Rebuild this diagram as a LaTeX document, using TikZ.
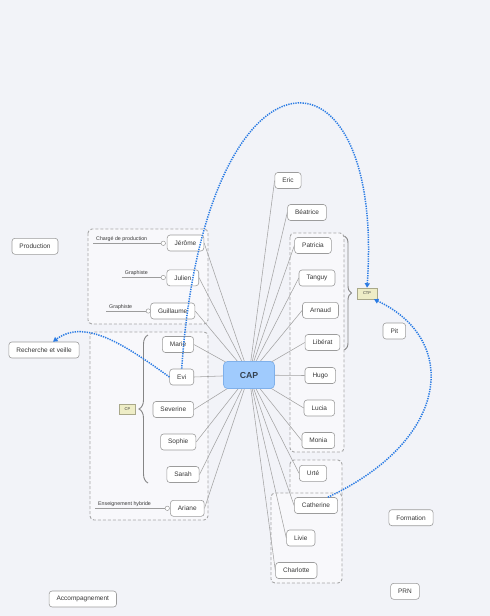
\documentclass[tikz,border=0pt]{standalone}
\usepackage{fontspec}
\setmainfont{Liberation Sans}
\usetikzlibrary{arrows.meta,decorations.pathreplacing,backgrounds}
\definecolor{bgc}{HTML}{F2F3F8}
\definecolor{grpfill}{HTML}{F8F8FB}
\definecolor{grpline}{HTML}{A6A6A6}
\definecolor{nodeline}{HTML}{9C9C9C}
\definecolor{txt}{HTML}{383838}
\definecolor{linkgray}{HTML}{A3A3A3}
\definecolor{capfill}{HTML}{A0CBFD}
\definecolor{capline}{HTML}{7FB0EA}
\definecolor{captxt}{HTML}{34414F}
\definecolor{bluelink}{HTML}{2A7BE4}
\definecolor{yelfill}{HTML}{EEEDC6}
\definecolor{yelline}{HTML}{A9A88A}
\definecolor{bracec}{HTML}{858585}
\tikzset{
  box/.style={draw=nodeline, fill=white, rounded corners=3pt, line width=0.6pt,
    inner xsep=7.5pt, inner ysep=0pt, minimum height=16pt,
    font=\fontsize{6.5}{7}\selectfont, text=txt},
  capbox/.style={draw=capline, fill=capfill, rounded corners=4pt, line width=0.7pt,
    minimum width=51pt, minimum height=27pt, font=\fontsize{8.7}{10}\selectfont\bfseries, text=captxt},
  tagbox/.style={draw=yelline, fill=yelfill, line width=0.5pt, inner sep=0pt,
    font=\fontsize{4}{5}\selectfont, text=txt},
  grp/.style={draw=grpline, dash pattern=on 3pt off 2pt, line width=0.9pt,
    rounded corners=4pt, fill=grpfill},
  conn/.style={draw=linkgray, line width=0.55pt},
  lbl/.style={inner xsep=3pt, inner ysep=1.6pt, font=\fontsize{5.3}{6}\selectfont, text=txt},
  lblline/.style={draw=nodeline, line width=0.55pt},
  dotc/.style={circle, draw=nodeline, fill=white, line width=0.5pt, inner sep=0pt, minimum size=4.4pt},
  brc/.style={draw=bracec, line width=0.9pt, decorate},
  bluedot/.style={draw=bluelink, line width=1.5pt, dash pattern=on 1.3pt off 1.1pt,
    -{Triangle[width=5pt,length=4.5pt]}},
}
\begin{document}
\begin{tikzpicture}[x=1pt,y=-1pt]
\useasboundingbox (0,0) rectangle (490,616);
\begin{scope}[on background layer]
  \fill[bgc] (0,0) rectangle (490,616);
  \path[grp] (88,229) rectangle (208,324);
  \path[grp] (90,332) rectangle (208,520);
  \path[grp] (290,233) rectangle (344,452);
  \path[grp] (290,460) rectangle (342,518);
  \path[grp] (271,493) rectangle (342,583);
\end{scope}

% central node
\node[capbox] (CAP) at (249,375) {CAP};

% right side
\node[box] (Eric) at (288,180.5) {Eric};
\node[box] (Beatrice) at (307,212.5) {Béatrice};
\node[box] (Patricia) at (313,245.5) {Patricia};
\node[box] (Tanguy) at (317,278) {Tanguy};
\node[box] (Arnaud) at (320.5,310.3) {Arnaud};
\node[box] (Liberat) at (322.5,342.5) {Libérat};
\node[box] (Hugo) at (320.3,375.5) {Hugo};
\node[box] (Lucia) at (319.3,408) {Lucia};
\node[box] (Monia) at (318.3,440.5) {Monia};
\node[box] (Urte) at (313,473.3) {Urté};
\node[box] (Catherine) at (316,505.5) {Catherine};
\node[box] (Livie) at (300.8,538) {Livie};
\node[box] (Charlotte) at (296.3,570.5) {Charlotte};

% left side
\node[box] (Jerome) at (185.5,243) {Jérôme};
\node[box] (Julien) at (182.8,277.8) {Julien};
\node[box] (Guillaume) at (172.7,311) {Guillaume};
\node[box] (Marie) at (178,344.5) {Marie};
\node[box] (Evi) at (181.7,377) {Evi};
\node[box] (Severine) at (173.3,409.5) {Severine};
\node[box] (Sophie) at (178.2,442) {Sophie};
\node[box] (Sarah) at (183,474.5) {Sarah};
\node[box] (Ariane) at (187.3,508.3) {Ariane};

% tags
\node[tagbox, minimum width=19.5pt, minimum height=11pt] (CTP) at (367,293.5) {CTP};
\node[tagbox, minimum width=16pt, minimum height=10pt] (CP) at (127.5,409.3) {CP};

% floating topics
\node[box] (Pit) at (394.3,331) {Pit};
\node[box] (Formation) at (411,517.7) {Formation};
\node[box] (PRN) at (405,591.3) {PRN};
\node[box] (Accompagnement) at (82.8,599) {Accompagnement};
\node[box] (Production) at (35,246.3) {Production};
\node[box] (Recherche) at (44,350) {Recherche et veille};

% labels with small circles
\node[lbl, anchor=south west] (LJ) at (93,243.3) {Chargé de production};
\node[dotc] (CJ) at (163.3,243.3) {};
\draw[lblline] (LJ.south west) -- (CJ.west);
\node[lbl, anchor=south west] (LU) at (121.7,277.5) {Graphiste};
\node[dotc] (CU) at (163.3,277.5) {};
\draw[lblline] (LU.south west) -- (CU.west);
\node[lbl, anchor=south west] (LG) at (106,311) {Graphiste};
\node[dotc] (CG) at (148.3,311) {};
\draw[lblline] (LG.south west) -- (CG.west);
\node[lbl, anchor=south west] (LA) at (95,508.3) {Enseignement hybride};
\node[dotc] (CA) at (167.3,508.3) {};
\draw[lblline] (LA.south west) -- (CA.west);

% connectors from CAP
\begin{scope}[on background layer]
  \foreach \n in {Eric,Beatrice,Patricia,Tanguy,Arnaud,Liberat,Hugo,Lucia,Monia,Urte,Catherine,Livie,Charlotte}
    \draw[conn] (CAP.center) -- (\n.west);
  \foreach \n in {Jerome,Julien,Guillaume,Marie,Evi,Severine,Sophie,Sarah,Ariane}
    \draw[conn] (CAP.center) -- (\n.east);
\end{scope}

% braces
\draw[brc, decoration={brace, amplitude=7pt}] (344.5,236) -- (344.5,350);
\draw[brc, decoration={brace, amplitude=9pt}] (148,483) -- (148,335);

% blue relationship links
\draw[bluedot] (Evi.north) .. controls (205,30) and (385,30) .. (CTP.north);
\draw[bluedot] (Evi.west) .. controls (125,345) and (85,318) .. ([xshift=9pt]Recherche.north);
\draw[bluedot] ([xshift=-10pt]Catherine.north east) .. controls (450,440) and (460,340) .. ([xshift=-3pt]CTP.south east);
\end{tikzpicture}
\end{document}
